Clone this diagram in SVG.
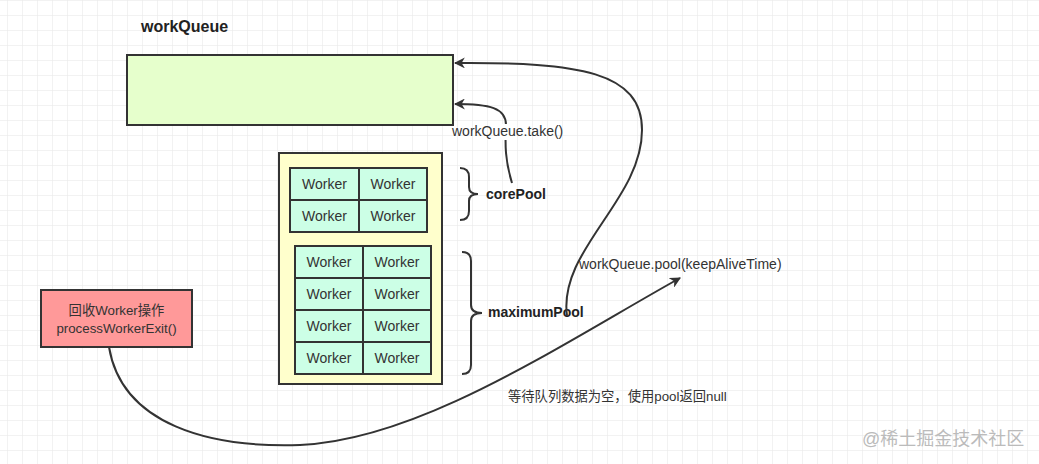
<svg xmlns="http://www.w3.org/2000/svg" width="1039" height="464" viewBox="0 0 1039 464">
<defs>
<pattern id="grid" x="7" y="0" width="15" height="15" patternUnits="userSpaceOnUse">
<path d="M0 0 V15 M0 0 H15" fill="none" stroke="#e6e6e6" stroke-width="1"/>
</pattern>
<marker id="arr" viewBox="0 0 10 10" refX="9" refY="5" markerWidth="11" markerHeight="11" markerUnits="userSpaceOnUse" orient="auto">
<path d="M0 0 L10 5 L0 10 L3 5 Z" fill="#333"/>
</marker>
<style>
.box{stroke:#333;stroke-width:2}
.w{fill:#ccffe6;stroke:#333;stroke-width:2}
.wt{font-family:"Liberation Sans",Arial,sans-serif;font-size:14px;fill:#333;text-anchor:middle}
.lbl{font-family:"Liberation Sans",Arial,sans-serif;font-size:14px;fill:#333}
.bold{font-family:"Liberation Sans",Arial,sans-serif;font-size:14px;font-weight:bold;fill:#222}
.cn{font-family:"Liberation Sans","Noto Sans CJK SC",sans-serif;font-size:13.3px;fill:#333}
.edge{fill:none;stroke:#333;stroke-width:2}
</style>
</defs>
<rect width="1039" height="464" fill="#fff"/>
<rect width="1039" height="464" fill="url(#grid)"/>
<g id="workQueue">
<text x="141" y="32" class="bold" style="font-size:16px">workQueue</text>
<rect x="127" y="55" width="326" height="70" fill="#e6ffcc" class="box"/>
</g>
<g id="pool">
<rect x="279" y="153" width="163" height="231" fill="#ffffcc" class="box"/>
</g>
<g id="corePoolWorkers">
<rect x="290" y="168" width="69" height="32" class="w"/><text x="324.5" y="189" class="wt">Worker</text>
<rect x="359" y="168" width="68" height="32" class="w"/><text x="393" y="189" class="wt">Worker</text>
<rect x="290" y="200" width="69" height="32" class="w"/><text x="324.5" y="221" class="wt">Worker</text>
<rect x="359" y="200" width="68" height="32" class="w"/><text x="393" y="221" class="wt">Worker</text>
</g>
<g id="maximumPoolWorkers">
<rect x="295" y="246" width="68" height="32" class="w"/><text x="329" y="267" class="wt">Worker</text>
<rect x="363" y="246" width="68" height="32" class="w"/><text x="397" y="267" class="wt">Worker</text>
<rect x="295" y="278" width="68" height="32" class="w"/><text x="329" y="299" class="wt">Worker</text>
<rect x="363" y="278" width="68" height="32" class="w"/><text x="397" y="299" class="wt">Worker</text>
<rect x="295" y="310" width="68" height="32" class="w"/><text x="329" y="331" class="wt">Worker</text>
<rect x="363" y="310" width="68" height="32" class="w"/><text x="397" y="331" class="wt">Worker</text>
<rect x="295" y="342" width="68" height="32" class="w"/><text x="329" y="363" class="wt">Worker</text>
<rect x="363" y="342" width="68" height="32" class="w"/><text x="397" y="363" class="wt">Worker</text>
</g>
<g id="corePool">
<path d="M460 168 Q469 168 469 177 L469 187 Q469 194 478 194 Q469 194 469 201 L469 211 Q469 220 460 220" class="edge"/>
<text x="486" y="199" class="bold">corePool</text>
</g>
<g id="maximumPool">
<path d="M462 252 Q471 252 471 261 L471 305 Q471 313 482 313 Q471 313 471 321 L471 365 Q471 374 462 374" class="edge"/>
<text x="488" y="317" class="bold">maximumPool</text>
</g>
<g id="processWorkerExit">
<rect x="41" y="290" width="151" height="57" fill="#ff9999" class="box"/>
<text x="116.5" y="315" class="cn" style="text-anchor:middle">回收Worker操作</text>
<text x="116.5" y="333" class="cn" style="text-anchor:middle">processWorkerExit()</text>
</g>
<g id="connectors">
<path d="M512 183 C505 160, 505 145, 506 125 C506 108, 490 104, 455 104" class="edge" marker-end="url(#arr)"/>
<path d="M567 316 C558 250, 642 200, 642 130 C642 72, 580 62, 455 63" class="edge" marker-end="url(#arr)"/>
<path d="M109 347 C122 425, 210 448, 300 445 C420 440, 560 345, 680 278" class="edge" marker-end="url(#arr)"/>
</g>
<g id="labels">
<rect x="500" y="124" width="12" height="16" fill="#fff"/>
<text x="452" y="136" class="lbl">workQueue.take()</text>
<text x="579" y="269" class="lbl">workQueue.pool(keepAliveTime)</text>
<text x="508" y="401" class="cn">等待队列数据为空，使用pool返回null</text>
<text x="862" y="445" class="cn" style="font-size:18px;fill:#bbb">@稀土掘金技术社区</text>
</g>
</svg>
